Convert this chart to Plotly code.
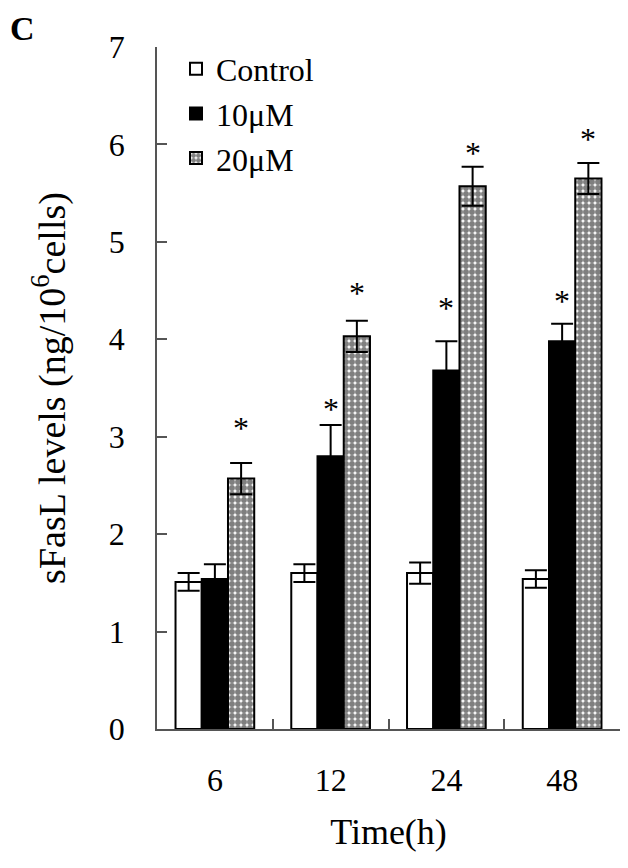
import plotly.graph_objects as go

# ---- data ----
times = ["6", "12", "24", "48"]
series_names = ["Control", "10μM", "20μM"]
control = [1.51, 1.60, 1.60, 1.54]
control_err = [0.09, 0.09, 0.11, 0.09]
dose10 = [1.54, 2.80, 3.68, 3.98]
dose10_err = [0.15, 0.32, 0.30, 0.18]
dose20 = [2.57, 4.03, 5.57, 5.65]
dose20_err = [0.16, 0.16, 0.20, 0.16]
# significance markers (asterisk heights) per series; None = no marker
sig10_y = [None, 3.34, 4.37, 4.44]
sig20_y = [3.14, 4.53, 5.96, 6.11]

SERIF = "Liberation Serif"
# page has an 8px body margin; figure is sized to fit the 628x868 window
W, H = 620, 860
L, R, T, B = 149, 8, 39, 139
bargap = 0.32
plot_w = W - L - R
plot_h = H - T - B

fig = go.Figure()
err_style = dict(type="data", color="black", thickness=2, width=11, visible=True)

fig.add_trace(go.Bar(x=times, y=control, name=series_names[0],
                     marker=dict(color="white", line=dict(color="black", width=2)),
                     error_y=dict(array=control_err, **err_style)))
fig.add_trace(go.Bar(x=times, y=dose10, name=series_names[1],
                     marker=dict(color="black", line=dict(color="black", width=2)),
                     error_y=dict(array=dose10_err, **err_style)))
fig.add_trace(go.Bar(x=times, y=dose20, name=series_names[2],
                     marker=dict(color="white", line=dict(color="black", width=2),
                                 pattern=dict(shape=".", fgcolor="black", bgcolor="white",
                                              size=6, solidity=0.75, fillmode="overlay")),
                     error_y=dict(array=dose20_err, **err_style)))

# asterisks above bars (category index, offset by one bar width in pixels)
bar_px = plot_w / len(times) * (1 - bargap) / 3
for ys, shift in ((sig10_y, 0), (sig20_y, bar_px)):
    for i, yv in enumerate(ys):
        if yv is None:
            continue
        fig.add_annotation(x=i, y=yv, text="*", showarrow=False, xshift=shift,
                           yanchor="middle", yshift=-5,
                           font=dict(family=SERIF, size=32, color="black"))

fig.add_annotation(x=(14 - L) / plot_w, y=1 + T / plot_h, xref="paper", yref="paper",
                   text="<b>C</b>", showarrow=False, xanchor="center", yanchor="top",
                   font=dict(family=SERIF, size=34, color="black"))

fig.update_layout(
    width=W, height=H,
    margin=dict(l=L, r=R, t=T, b=B),
    paper_bgcolor="white", plot_bgcolor="white",
    barmode="group", bargap=bargap, bargroupgap=0,
    font=dict(family=SERIF, size=32, color="black"),
    showlegend=True,
    legend=dict(x=0.041, y=1.008, xanchor="left", yanchor="top",
                bgcolor="rgba(0,0,0,0)", font=dict(family=SERIF, size=32),
                itemwidth=30, tracegroupgap=0),
    xaxis=dict(
        type="category", range=[-0.5, len(times) - 0.5],
        showline=True, linecolor="#555", linewidth=1.5,
        ticks="inside", ticklen=10, tickcolor="#555", tickwidth=1.5,
        tickson="boundaries", ticklabelstandoff=22, tickangle=0,
        tickfont=dict(family=SERIF, size=32),
        title=dict(text="Time(h)", font=dict(family=SERIF, size=36), standoff=22),
        showgrid=False, zeroline=False,
    ),
    yaxis=dict(
        range=[0, 7], dtick=1, showline=True, linecolor="#555", linewidth=1.5,
        ticks="inside", ticklen=10, tickcolor="#555", tickwidth=1.5,
        ticklabelstandoff=24,
        tickfont=dict(family=SERIF, size=32),
        title=dict(text="sFasL levels (ng/10<sup>6</sup>cells)", font=dict(family=SERIF, size=38), standoff=32),
        showgrid=False, zeroline=False,
    ),
)

fig.write_html("out.html")
